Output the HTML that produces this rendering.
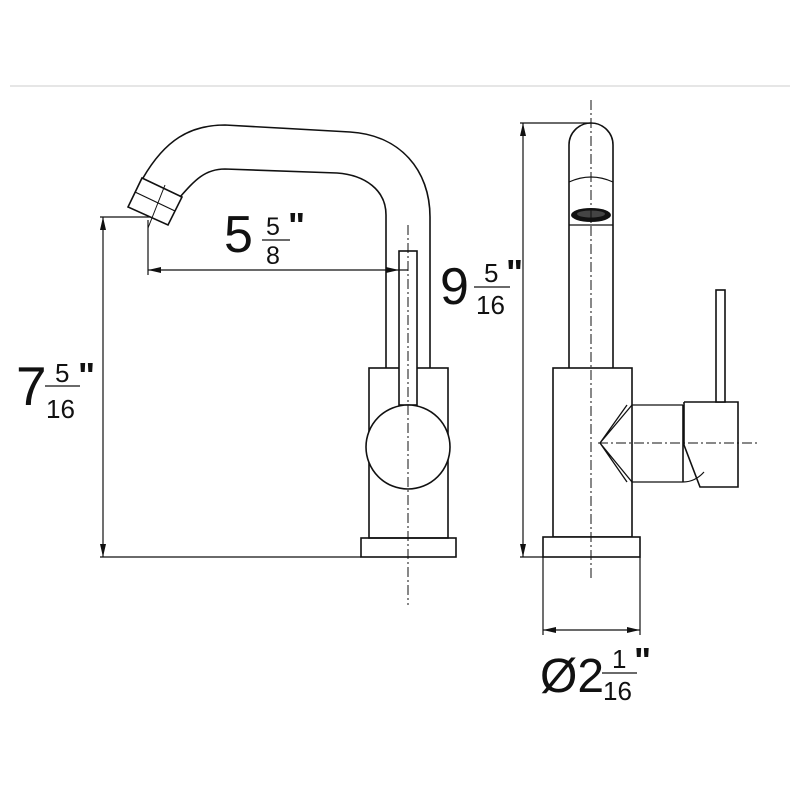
<!DOCTYPE html>
<html><head><meta charset="utf-8"><style>html,body{margin:0;padding:0;background:#fff}svg{display:block}</style></head>
<body>
<svg width="800" height="800" viewBox="0 0 800 800" xmlns="http://www.w3.org/2000/svg" font-family="Liberation Sans, Arial, sans-serif">
<rect width="800" height="800" fill="#fff"/>
<line x1="10" y1="86" x2="790" y2="86" stroke="#ddd" stroke-width="1.5"/>
<g fill="none" stroke="#111" stroke-width="1.6">
<path d="M143,178 C165,140 190,125 225,125 L350,132 C400,135 430,170 430,217 L430,368"/>
<path d="M180,197 C195,180 205,169 225,169 L337,173 C365,175 386,190 386,215 L386,368"/>
<polygon points="142,178 182,197 168,225 128,207"/>
<line x1="135" y1="192" x2="175" y2="211" stroke-width="1.2"/>
<line x1="165" y1="185" x2="148" y2="228" stroke-width="1"/>
<rect x="369" y="368" width="79" height="170"/>
<rect x="361" y="538" width="95" height="19"/>
<rect x="399" y="251" width="18" height="154" fill="#fff"/>
<circle cx="408" cy="447" r="42" fill="#fff"/>
<line x1="100" y1="217" x2="150" y2="217" stroke-width="1.2"/>
<line x1="100" y1="557" x2="361" y2="557" stroke-width="1.2"/>
<line x1="103" y1="217" x2="103" y2="557" stroke-width="1.2"/>
<line x1="148" y1="220" x2="148" y2="275" stroke-width="1.2"/>
<line x1="148" y1="270" x2="408" y2="270" stroke-width="1.2"/>
<path d="M569,368 L569,145 A22,22 0 0 1 613,145 L613,368"/>
<path d="M569,182 Q591,172 613,182" stroke-width="1.2"/>
<line x1="569" y1="225" x2="613" y2="225" stroke-width="1.2"/>
<rect x="553" y="368" width="79" height="169" fill="#fff"/>
<rect x="543" y="537" width="97" height="20" fill="#fff"/>
<path d="M632,405 L683,405 M632,482 L683,482 M632,405 L600,443 L632,482 M627,405 L600,443 L627,482" stroke-width="1.3"/>
<line x1="683" y1="405" x2="683" y2="482"/>
<path d="M684,402 L738,402 L738,487 L700,487 L684,445 L684,402"/>
<path d="M683,482 Q695,482 704,472" stroke-width="1.2"/>
<rect x="716" y="290" width="9" height="112" fill="#fff"/>
<line x1="520" y1="123" x2="591" y2="123" stroke-width="1.2"/>
<line x1="520" y1="557" x2="543" y2="557" stroke-width="1.2"/>
<line x1="523" y1="123" x2="523" y2="557" stroke-width="1.2"/>
<line x1="543" y1="557" x2="543" y2="635" stroke-width="1.2"/>
<line x1="640" y1="557" x2="640" y2="635" stroke-width="1.2"/>
<line x1="543" y1="630" x2="640" y2="630" stroke-width="1.2"/>
</g>
<ellipse cx="591" cy="215" rx="20" ry="7" fill="#111"/>
<ellipse cx="591" cy="214" rx="14" ry="3.5" fill="#444"/>
<g stroke="#111" stroke-width="1" stroke-dasharray="10,3,2,3" fill="none">
<line x1="408" y1="225" x2="408" y2="605"/>
<line x1="591" y1="100" x2="591" y2="580"/>
<line x1="598" y1="443" x2="760" y2="443"/>
</g>
<g fill="#111">
<polygon points="103,217 100,230 106,230"/>
<polygon points="103,557 100,544 106,544"/>
<polygon points="148,270 161,267 161,273"/>
<polygon points="399,270 386,267 386,273"/>
<polygon points="523,123 520,136 526,136"/>
<polygon points="523,557 520,544 526,544"/>
<polygon points="543,630 556,627 556,633"/>
<polygon points="640,630 627,627 627,633"/>
</g>
<g fill="#111">
<text x="224" y="252" font-size="52">5</text>
<text x="266" y="235" font-size="25">5</text>
<line x1="262" y1="240" x2="290" y2="240" stroke="#111" stroke-width="1.3"/>
<text x="266" y="264" font-size="25">8</text>
<text x="288" y="238" font-size="36" font-weight="bold">"</text>
<text x="16" y="405" font-size="55">7</text>
<text x="55" y="382" font-size="26">5</text>
<line x1="45" y1="386" x2="80" y2="386" stroke="#111" stroke-width="1.3"/>
<text x="46" y="418" font-size="26">16</text>
<text x="78" y="388" font-size="36" font-weight="bold">"</text>
<text x="440" y="304" font-size="52">9</text>
<text x="484" y="282" font-size="26">5</text>
<line x1="474" y1="287" x2="510" y2="287" stroke="#111" stroke-width="1.3"/>
<text x="476" y="314" font-size="26">16</text>
<text x="506" y="285" font-size="36" font-weight="bold">"</text>
<text x="540" y="692" font-size="48">Ø2</text>
<text x="612" y="668" font-size="26">1</text>
<line x1="602" y1="673" x2="637" y2="673" stroke="#111" stroke-width="1.3"/>
<text x="603" y="700" font-size="26">16</text>
<text x="634" y="673" font-size="36" font-weight="bold">"</text>
</g>
</svg>
</body></html>
